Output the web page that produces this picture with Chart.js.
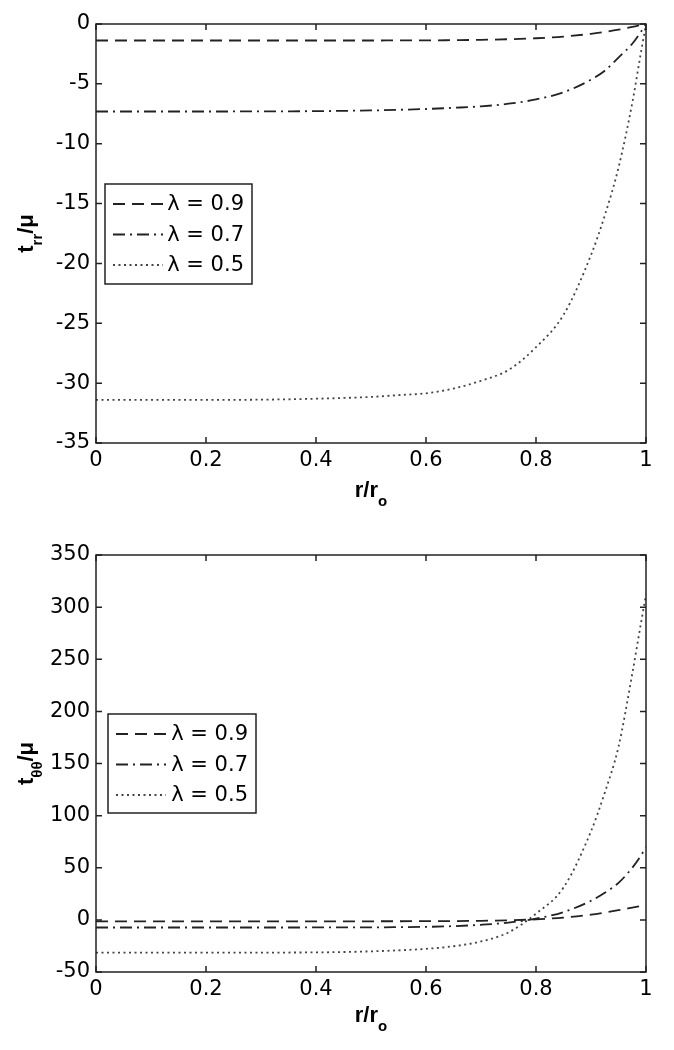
<!DOCTYPE html>
<html>
<head>
<meta charset="utf-8">
<script src="https://cdn.jsdelivr.net/npm/chart.js@4.4.1/dist/chart.umd.min.js"></script>
<style>
  html, body { margin: 0; padding: 0; background: #fff; }
  .box { position: relative; width: 674px; height: 525px; }
</style>
</head>
<body>
<div class="box"><canvas id="top" width="674" height="525"></canvas></div>
<div class="box"><canvas id="bottom" width="674" height="525"></canvas></div>
<script>
// r / r_o sample positions
const r = [0, 0.1, 0.2, 0.3, 0.4, 0.5, 0.55, 0.6, 0.65, 0.7, 0.75, 0.8, 0.85, 0.9, 0.925, 0.95, 0.975, 0.99, 1];

// t_rr / mu
const trr09 = [-1.38, -1.38, -1.38, -1.38, -1.38, -1.38, -1.37, -1.37, -1.35, -1.32, -1.27, -1.19, -1.05, -0.82, -0.66, -0.47, -0.24, -0.09, 0];
const trr07 = [-7.31, -7.31, -7.31, -7.30, -7.28, -7.22, -7.17, -7.10, -7.00, -6.88, -6.66, -6.30, -5.70, -4.65, -3.90, -2.80, -1.65, -0.70, 0];
const trr05 = [-31.4, -31.4, -31.4, -31.38, -31.3, -31.15, -31.0, -30.85, -30.45, -29.8, -28.9, -27.0, -24.3, -19.3, -16.0, -12.0, -6.6, -2.6, 0];

// t_thetatheta / mu
const ttt09 = [-1.38, -1.38, -1.38, -1.38, -1.37, -1.35, -1.3, -1.25, -1.15, -0.9, -0.4, 0.5, 2.2, 5.0, 7.0, 9.3, 11.8, 13.3, 14.5];
const ttt07 = [-7.31, -7.31, -7.31, -7.3, -7.28, -7.2, -7.0, -6.7, -6.0, -4.7, -2.6, 1.2, 7.5, 18.3, 26, 35.5, 50, 61, 70];
const ttt05 = [-31.4, -31.4, -31.4, -31.35, -31.2, -30.2, -29.2, -27.8, -25.3, -20.7, -12.0, 6.0, 31, 85, 122, 166, 236, 282, 312];

const seriesLabels = ['\u03bb = 0.9', '\u03bb = 0.7', '\u03bb = 0.5'];
const dashes = [[12, 7], [12, 5, 2, 5], [2, 3.5]];
const ink = '#222';
const tickFont = { family: 'DejaVu Sans, Arial, sans-serif', size: 21 };
const titleFont = 'Liberation Sans, Arial, Helvetica, sans-serif';

function drawParts(ctx, parts, x, y) {
  // parts: [text, isSub]; centred at x, baseline y
  let w = 0;
  parts.forEach(p => {
    ctx.font = 'bold ' + (p[1] ? 15 : 22) + 'px ' + titleFont;
    w += ctx.measureText(p[0]).width;
  });
  let cx = x - w / 2;
  parts.forEach(p => {
    ctx.font = 'bold ' + (p[1] ? 15 : 22) + 'px ' + titleFont;
    ctx.textAlign = 'left';
    ctx.textBaseline = 'alphabetic';
    ctx.fillText(p[0], cx, y + (p[1] ? 9 : 0));
    cx += ctx.measureText(p[0]).width;
  });
}

const framePlugin = {
  id: 'frame',
  afterDraw(chart) {
    const { ctx, chartArea: a, scales: { x, y } } = chart;
    const o = chart.options.plugins.frame;
    ctx.save();
    ctx.strokeStyle = ink;
    ctx.fillStyle = '#000';
    ctx.lineWidth = 1.5;
    ctx.setLineDash([]);
    ctx.strokeRect(a.left, a.top, a.right - a.left, a.bottom - a.top);
    ctx.beginPath();
    x.ticks.forEach(t => {
      const px = x.getPixelForValue(t.value);
      ctx.moveTo(px, a.bottom); ctx.lineTo(px, a.bottom - 6);
      ctx.moveTo(px, a.top); ctx.lineTo(px, a.top + 6);
    });
    y.ticks.forEach(t => {
      const py = y.getPixelForValue(t.value);
      ctx.moveTo(a.left, py); ctx.lineTo(a.left + 6, py);
      ctx.moveTo(a.right, py); ctx.lineTo(a.right - 6, py);
    });
    ctx.stroke();

    // legend
    const L = o.legend;
    ctx.fillStyle = '#fff';
    ctx.fillRect(L.x, L.y, L.w, L.h);
    ctx.strokeRect(L.x, L.y, L.w, L.h);
    chart.data.datasets.forEach((ds, i) => {
      const yy = L.y + 20 + i * 30.5;
      ctx.setLineDash(ds.borderDash);
      ctx.lineWidth = ds.borderWidth;
      ctx.strokeStyle = ds.borderColor;
      ctx.beginPath();
      ctx.moveTo(L.x + 8, yy); ctx.lineTo(L.x + 58, yy);
      ctx.stroke();
      ctx.setLineDash([]);
      ctx.fillStyle = '#000';
      ctx.font = tickFont.size + 'px ' + tickFont.family;
      ctx.textAlign = 'right';
      ctx.textBaseline = 'middle';
      ctx.fillText(ds.label, L.x + L.w - 8, yy + 1);
    });

    // axis titles
    ctx.fillStyle = '#000';
    drawParts(ctx, [['r/r', false], ['o', true]], (a.left + a.right) / 2, o.xTitleY);
    ctx.translate(33, (a.top + a.bottom) / 2);
    ctx.rotate(-Math.PI / 2);
    drawParts(ctx, o.yTitle, 0, 0);
    ctx.restore();
  }
};

function makeChart(id, values, yMin, yMax, yStep, top, bottom, yTitle, legend) {
  const datasets = values.map((vals, i) => ({
    label: seriesLabels[i],
    data: r.map((v, k) => ({ x: v, y: vals[k] })),
    borderColor: i === 2 ? '#444' : ink,
    borderWidth: i === 2 ? 1.8 : 1.8,
    borderDash: dashes[i],
    pointRadius: 0,
    fill: false,
    cubicInterpolationMode: 'monotone'
  }));
  return new Chart(document.getElementById(id), {
    type: 'line',
    data: { datasets },
    plugins: [framePlugin],
    options: {
      responsive: false,
      animation: false,
      devicePixelRatio: 1,
      layout: { padding: { left: 0, right: 28, top: top, bottom: 525 - bottom - 40 } },
      plugins: {
        legend: { display: false },
        tooltip: { enabled: false },
        frame: { legend: legend, yTitle: yTitle, xTitleY: 497 }
      },
      scales: {
        x: {
          type: 'linear', min: 0, max: 1,
          grid: { display: false, drawTicks: false },
          border: { display: false },
          afterFit: s => { s.height = 40; },
          ticks: {
            stepSize: 0.2, autoSkip: false, maxRotation: 0, padding: 5,
            color: '#000', font: tickFont,
            callback: v => String(+v.toFixed(1))
          }
        },
        y: {
          type: 'linear', min: yMin, max: yMax,
          grid: { display: false, drawTicks: false },
          border: { display: false },
          afterFit: s => { s.width = 96; },
          ticks: { stepSize: yStep, padding: 6, color: '#000', font: tickFont }
        }
      }
    }
  });
}

makeChart('top', [trr09, trr07, trr05], -35, 0, 5, 24, 443,
  [['t', false], ['rr', true], ['/\u03bc', false]],
  { x: 105, y: 184, w: 147, h: 100 });
makeChart('bottom', [ttt09, ttt07, ttt05], -50, 350, 50, 30, 447,
  [['t', false], ['\u03b8\u03b8', true], ['/\u03bc', false]],
  { x: 108, y: 189, w: 148, h: 99 });
</script>
</body>
</html>
